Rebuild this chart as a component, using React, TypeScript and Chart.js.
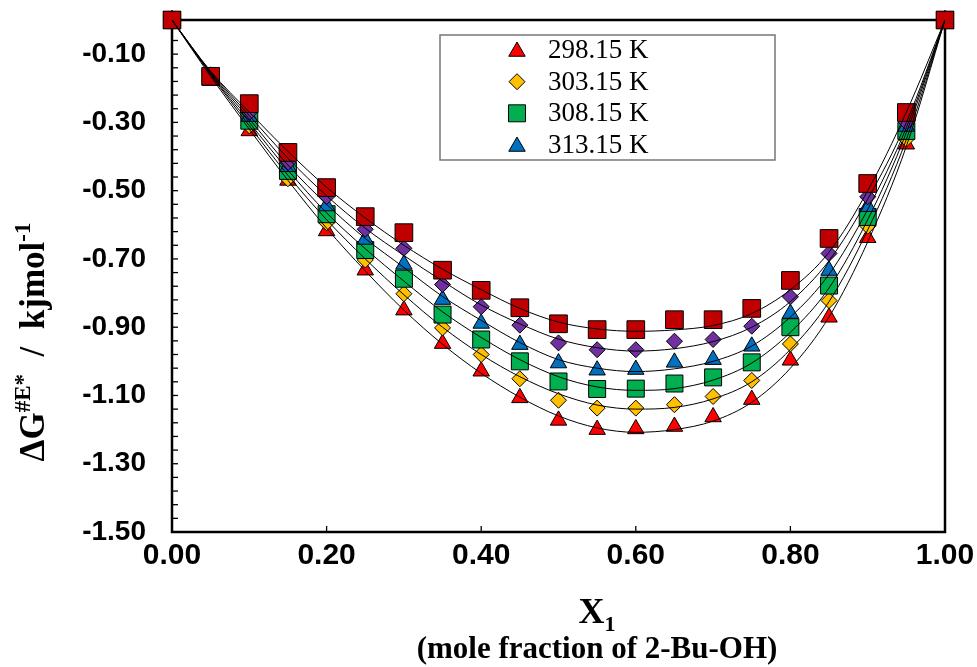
import React, { useEffect, useRef } from "react";
import { Chart, registerables } from "chart.js";

Chart.register(...registerables);

// ---------- data ----------
const xValues = [0, 0.05, 0.1, 0.15, 0.2, 0.25, 0.3, 0.35, 0.4, 0.45, 0.5, 0.55, 0.6, 0.65, 0.7, 0.75, 0.8, 0.85, 0.9, 0.95, 1.0];

// measured points
const data298 = [0, -0.171, -0.325, -0.47, -0.618, -0.733, -0.85, -0.948, -1.029, -1.107, -1.173, -1.2, -1.198, -1.191, -1.163, -1.112, -0.997, -0.871, -0.638, -0.364, 0];
const data303 = [0, -0.169, -0.31, -0.465, -0.594, -0.703, -0.802, -0.902, -0.98, -1.051, -1.114, -1.137, -1.137, -1.127, -1.103, -1.056, -0.949, -0.822, -0.604, -0.349, 0];
const data308 = [0, -0.167, -0.295, -0.442, -0.569, -0.674, -0.758, -0.863, -0.936, -1.0, -1.059, -1.081, -1.08, -1.065, -1.047, -1.003, -0.9, -0.778, -0.577, -0.325, 0];
const data313 = [0, -0.165, -0.283, -0.43, -0.545, -0.643, -0.716, -0.819, -0.889, -0.951, -1.005, -1.026, -1.024, -1.003, -0.995, -0.956, -0.86, -0.734, -0.547, -0.312, 0];
const data318 = [0, -0.163, -0.271, -0.418, -0.518, -0.613, -0.669, -0.775, -0.84, -0.894, -0.946, -0.966, -0.966, -0.941, -0.936, -0.897, -0.811, -0.684, -0.518, -0.3, 0];
const data323 = [0, -0.165, -0.245, -0.388, -0.491, -0.576, -0.623, -0.733, -0.792, -0.843, -0.89, -0.907, -0.907, -0.878, -0.878, -0.845, -0.763, -0.64, -0.479, -0.271, 0];

// fitted curves
const fit298 = [0, -0.165, -0.32, -0.47, -0.61, -0.735, -0.85, -0.95, -1.035, -1.105, -1.16, -1.195, -1.208, -1.2, -1.175, -1.12, -1.02, -0.87, -0.65, -0.37, 0];
const fit303 = [0, -0.16, -0.31, -0.455, -0.585, -0.7, -0.805, -0.9, -0.98, -1.045, -1.095, -1.128, -1.14, -1.135, -1.11, -1.06, -0.965, -0.825, -0.615, -0.35, 0];
const fit308 = [0, -0.158, -0.3, -0.44, -0.565, -0.67, -0.765, -0.855, -0.93, -0.995, -1.045, -1.075, -1.085, -1.08, -1.055, -1.005, -0.915, -0.785, -0.585, -0.33, 0];
const fit313 = [0, -0.155, -0.29, -0.425, -0.54, -0.64, -0.725, -0.81, -0.88, -0.945, -0.995, -1.02, -1.03, -1.022, -1.0, -0.955, -0.87, -0.745, -0.555, -0.315, 0];
const fit318 = [0, -0.152, -0.28, -0.405, -0.515, -0.61, -0.69, -0.765, -0.835, -0.89, -0.935, -0.96, -0.97, -0.963, -0.942, -0.9, -0.825, -0.705, -0.525, -0.3, 0];
const fit323 = [0, -0.15, -0.27, -0.385, -0.49, -0.58, -0.66, -0.73, -0.79, -0.845, -0.885, -0.905, -0.912, -0.908, -0.895, -0.86, -0.79, -0.68, -0.5, -0.27, 0];

const legendLabels = ["298.15 K", "303.15 K", "308.15 K", "313.15 K"];
const yTickValues = [-0.1, -0.3, -0.5, -0.7, -0.9, -1.1, -1.3, -1.5];
const xTickValues = [0, 0.2, 0.4, 0.6, 0.8, 1.0];
const yMinorStep = 0.04;

const pts = (ys: number[]) => ys.map((y, i) => ({ x: xValues[i], y }));

const seriesDefs = [
  { label: legendLabels[0], data: data298, style: "triangle", color: "#FF0000", radius: 9.5, order: 6 },
  { label: legendLabels[1], data: data303, style: "rectRot", color: "#FFC000", radius: 8, order: 5 },
  { label: legendLabels[2], data: data308, style: "rect", color: "#00B050", radius: 12, order: 4 },
  { label: legendLabels[3], data: data313, style: "triangle", color: "#0070C0", radius: 9.5, order: 3 },
  { label: "", data: data318, style: "rectRot", color: "#7030A0", radius: 8, order: 2 },
  { label: "", data: data323, style: "rect", color: "#C00000", radius: 12.5, order: 1 },
];
const fits = [fit298, fit303, fit308, fit313, fit318, fit323];

function drawMarker(ctx: CanvasRenderingContext2D, style: string, x: number, y: number, r: number, fill: string) {
  ctx.beginPath();
  if (style === "triangle") {
    for (let k = 0; k < 3; k++) {
      const a = (k * 2 * Math.PI) / 3;
      const px = x + Math.sin(a) * r;
      const py = y - Math.cos(a) * r;
      if (k === 0) ctx.moveTo(px, py);
      else ctx.lineTo(px, py);
    }
    ctx.closePath();
  } else if (style === "rectRot") {
    ctx.moveTo(x, y - r);
    ctx.lineTo(x + r, y);
    ctx.lineTo(x, y + r);
    ctx.lineTo(x - r, y);
    ctx.closePath();
  } else {
    const s = Math.SQRT1_2 * r;
    ctx.rect(x - s, y - s, 2 * s, 2 * s);
  }
  ctx.fillStyle = fill;
  ctx.fill();
  ctx.lineWidth = 1;
  ctx.strokeStyle = "#000";
  ctx.stroke();
}

const serif = "'Liberation Serif', 'Times New Roman', serif";

const decorPlugin = {
  id: "decor",
  beforeDatasetsDraw(chart: any) {
    const { ctx, chartArea: a, scales } = chart;
    const xs = scales.x;
    const ys = scales.y;
    ctx.save();
    ctx.strokeStyle = "#000";
    ctx.lineWidth = 1.3;
    const start = yTickValues[0];
    for (let v = start; v >= ys.min - 1e-9; v -= yMinorStep) {
      const py = ys.getPixelForValue(v);
      ctx.beginPath();
      ctx.moveTo(a.left, py);
      ctx.lineTo(a.left + 6, py);
      ctx.stroke();
    }
    for (let v = start + yMinorStep; v <= ys.max + 1e-9; v += yMinorStep) {
      const py = ys.getPixelForValue(v);
      ctx.beginPath();
      ctx.moveTo(a.left, py);
      ctx.lineTo(a.left + 6, py);
      ctx.stroke();
    }
    xTickValues.forEach((v) => {
      const px = xs.getPixelForValue(v);
      ctx.beginPath();
      ctx.moveTo(px, a.bottom);
      ctx.lineTo(px, a.bottom - 6);
      ctx.stroke();
    });
    ctx.lineWidth = 2.5;
    ctx.strokeRect(a.left, a.top, a.right - a.left, a.bottom - a.top);
    ctx.restore();
  },
  afterDraw(chart: any) {
    const { ctx } = chart;
    ctx.save();
    // legend box
    const bx = 440, by = 35, bw = 335, bh = 125;
    ctx.fillStyle = "#fff";
    ctx.fillRect(bx, by, bw, bh);
    ctx.strokeStyle = "#777";
    ctx.lineWidth = 1.5;
    ctx.strokeRect(bx, by, bw, bh);
    const rowY = [50, 81.7, 113.3, 145];
    ctx.font = "27px " + serif;
    ctx.textBaseline = "middle";
    ctx.textAlign = "left";
    for (let i = 0; i < 4; i++) {
      const s = seriesDefs[i];
      drawMarker(ctx, s.style, 517, rowY[i] + (s.style === "triangle" ? 1.5 : 0), s.radius, s.color);
      ctx.fillStyle = "#000";
      ctx.fillText(s.label, 548, rowY[i] + 1);
    }

    // x axis title
    ctx.fillStyle = "#000";
    ctx.textBaseline = "alphabetic";
    const bigX = "bold 36px " + serif;
    const smallX = "bold 22px " + serif;
    ctx.font = bigX;
    const wX = ctx.measureText("X").width;
    ctx.font = smallX;
    const w1 = ctx.measureText("1").width;
    const cx = 597;
    const x0 = cx - (wX + w1) / 2;
    ctx.font = bigX;
    ctx.fillText("X", x0, 623);
    ctx.font = smallX;
    ctx.fillText("1", x0 + wX, 631);
    ctx.font = "bold 31px " + serif;
    ctx.textAlign = "center";
    ctx.fillText("(mole fraction of 2-Bu-OH)", cx, 658);

    // y axis title (rotated)
    const bigY = "bold 35px " + serif;
    const smallY = "bold 23px " + serif;
    ctx.save();
    ctx.translate(32, 342);
    ctx.rotate(-Math.PI / 2);
    ctx.textAlign = "left";
    const parts = [
      { t: "\u0394G", f: bigY, dy: 0 },
      { t: "#E*", f: smallY, dy: -14 },
      { t: "  /  kjmol", f: bigY, dy: 0 },
      { t: "-1", f: smallY, dy: -14 },
    ];
    let total = 0;
    parts.forEach((p) => {
      ctx.font = p.f;
      total += ctx.measureText(p.t).width;
    });
    let px = -total / 2;
    parts.forEach((p) => {
      ctx.font = p.f;
      ctx.fillText(p.t, px, 12 + p.dy);
      px += ctx.measureText(p.t).width;
    });
    ctx.restore();
    ctx.restore();
  },
};

export default function App() {
  const ref = useRef<HTMLCanvasElement | null>(null);
  useEffect(() => {
    if (!ref.current) return;
    const datasets: any[] = [];
    fits.forEach((f, i) => {
      datasets.push({
        type: "line",
        label: "fit" + i,
        data: pts(f),
        borderColor: "#000",
        borderWidth: 1,
        pointRadius: 0,
        fill: false,
        cubicInterpolationMode: "monotone",
        order: 0,
      });
    });
    seriesDefs.forEach((s) => {
      datasets.push({
        type: "line",
        label: s.label,
        data: pts(s.data),
        showLine: false,
        pointStyle: s.style,
        pointRadius: s.radius,
        pointBackgroundColor: s.color,
        pointBorderColor: "#000",
        pointBorderWidth: 1,
        backgroundColor: s.color,
        borderColor: "#000",
        order: s.order,
        clip: false,
      });
    });
    const xFont = { family: "'Liberation Sans', Arial, sans-serif", size: 30, weight: "bold" as const };
    const yFont = { family: "'Liberation Sans', Arial, sans-serif", size: 28, weight: "bold" as const };
    const chart = new Chart(ref.current, {
      type: "line",
      data: { datasets },
      plugins: [decorPlugin],
      options: {
        animation: false,
        responsive: false,
        maintainAspectRatio: false,
        layout: { padding: { top: 20, right: 32, left: 0, bottom: 0 } },
        plugins: { legend: { display: false }, tooltip: { enabled: false } },
        scales: {
          x: {
            type: "linear",
            min: 0,
            max: 1,
            grid: { display: false, drawTicks: false },
            border: { display: false },
            afterBuildTicks: (scale: any) => {
              scale.ticks = xTickValues.map((v) => ({ value: v }));
            },
            afterFit: (scale: any) => {
              scale.height = 135;
              scale.paddingLeft = 0;
              scale.paddingRight = 0;
              scale.paddingTop = 0;
              scale.paddingBottom = 0;
            },
            ticks: {
              padding: 6,
              color: "#000",
              font: xFont,
              maxRotation: 0,
              callback: (v: any) => Number(v).toFixed(2),
            },
          },
          y: {
            type: "linear",
            min: -1.5,
            max: 0,
            grid: { display: false, drawTicks: false },
            border: { display: false },
            afterBuildTicks: (scale: any) => {
              scale.ticks = yTickValues.map((v) => ({ value: v }));
            },
            afterFit: (scale: any) => {
              scale.width = 172;
              scale.paddingLeft = 0;
              scale.paddingRight = 0;
              scale.paddingTop = 0;
              scale.paddingBottom = 0;
            },
            ticks: {
              padding: 26,
              color: "#000",
              font: yFont,
              callback: (v: any) => Number(v).toFixed(2),
            },
          },
        },
      },
    });
    return () => chart.destroy();
  }, []);
  return (
    <div style={{ position: "fixed", left: 0, top: 0, width: 977, height: 667, background: "#fff" }}>
      <canvas ref={ref} width={977} height={667} style={{ width: 977, height: 667, display: "block" }} />
    </div>
  );
}
